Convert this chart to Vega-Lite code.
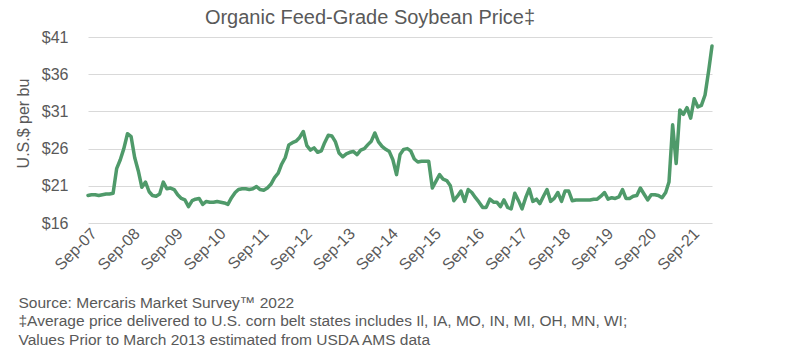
{
  "$schema": "https://vega.github.io/schema/vega-lite/v6.json",
  "autosize": {"type": "none"},
  "width": 624,
  "height": 186,
  "padding": {"left": 88, "top": 37, "right": 88, "bottom": 138},
  "background": "white",
  "config": {
    "view": {"stroke": null},
    "font": "Liberation Sans"
  },
  "title": {
    "text": "Organic Feed-Grade Soybean Price‡",
    "fontSize": 20,
    "fontWeight": "normal",
    "color": "#595959",
    "font": "Liberation Sans",
    "anchor": "middle",
    "dx": -30,
    "dy": 3,
    "offset": 4
  },
  "data": {
    "values": [
      {"d": "2007-09", "p": 19.7}, {"d": "2007-10", "p": 19.8}, {"d": "2007-11", "p": 19.8}, {"d": "2007-12", "p": 19.7},
      {"d": "2008-01", "p": 19.8}, {"d": "2008-02", "p": 19.9}, {"d": "2008-03", "p": 19.9}, {"d": "2008-04", "p": 20.0},
      {"d": "2008-05", "p": 23.3}, {"d": "2008-06", "p": 24.5}, {"d": "2008-07", "p": 26.0}, {"d": "2008-08", "p": 28.0},
      {"d": "2008-09", "p": 27.6}, {"d": "2008-10", "p": 24.8}, {"d": "2008-11", "p": 23.0}, {"d": "2008-12", "p": 20.8},
      {"d": "2009-01", "p": 21.5}, {"d": "2009-02", "p": 20.2}, {"d": "2009-03", "p": 19.7}, {"d": "2009-04", "p": 19.6},
      {"d": "2009-05", "p": 19.9}, {"d": "2009-06", "p": 21.5}, {"d": "2009-07", "p": 20.6}, {"d": "2009-08", "p": 20.7},
      {"d": "2009-09", "p": 20.5}, {"d": "2009-10", "p": 19.8}, {"d": "2009-11", "p": 19.3}, {"d": "2009-12", "p": 19.1},
      {"d": "2010-01", "p": 18.2}, {"d": "2010-02", "p": 19.0}, {"d": "2010-03", "p": 19.2}, {"d": "2010-04", "p": 19.3},
      {"d": "2010-05", "p": 18.5}, {"d": "2010-06", "p": 18.9}, {"d": "2010-07", "p": 18.8}, {"d": "2010-08", "p": 18.8},
      {"d": "2010-09", "p": 18.9}, {"d": "2010-10", "p": 18.8}, {"d": "2010-11", "p": 18.7}, {"d": "2010-12", "p": 18.5},
      {"d": "2011-01", "p": 19.4}, {"d": "2011-02", "p": 20.1}, {"d": "2011-03", "p": 20.5}, {"d": "2011-04", "p": 20.6},
      {"d": "2011-05", "p": 20.6}, {"d": "2011-06", "p": 20.5}, {"d": "2011-07", "p": 20.6}, {"d": "2011-08", "p": 20.9},
      {"d": "2011-09", "p": 20.5}, {"d": "2011-10", "p": 20.4}, {"d": "2011-11", "p": 20.7}, {"d": "2011-12", "p": 21.2},
      {"d": "2012-01", "p": 22.1}, {"d": "2012-02", "p": 22.7}, {"d": "2012-03", "p": 23.9}, {"d": "2012-04", "p": 24.8},
      {"d": "2012-05", "p": 26.5}, {"d": "2012-06", "p": 26.8}, {"d": "2012-07", "p": 27.0}, {"d": "2012-08", "p": 27.5},
      {"d": "2012-09", "p": 28.3}, {"d": "2012-10", "p": 26.4}, {"d": "2012-11", "p": 25.8}, {"d": "2012-12", "p": 26.1},
      {"d": "2013-01", "p": 25.5}, {"d": "2013-02", "p": 25.7}, {"d": "2013-03", "p": 26.8}, {"d": "2013-04", "p": 27.8},
      {"d": "2013-05", "p": 27.7}, {"d": "2013-06", "p": 26.9}, {"d": "2013-07", "p": 25.4}, {"d": "2013-08", "p": 24.9},
      {"d": "2013-09", "p": 25.3}, {"d": "2013-10", "p": 25.5}, {"d": "2013-11", "p": 25.6}, {"d": "2013-12", "p": 25.2},
      {"d": "2014-01", "p": 25.8}, {"d": "2014-02", "p": 26.0}, {"d": "2014-03", "p": 26.5}, {"d": "2014-04", "p": 27.0},
      {"d": "2014-05", "p": 28.1}, {"d": "2014-06", "p": 26.9}, {"d": "2014-07", "p": 26.3}, {"d": "2014-08", "p": 25.9},
      {"d": "2014-09", "p": 25.6}, {"d": "2014-10", "p": 24.5}, {"d": "2014-11", "p": 22.5}, {"d": "2014-12", "p": 25.2},
      {"d": "2015-01", "p": 25.9}, {"d": "2015-02", "p": 26.0}, {"d": "2015-03", "p": 25.7}, {"d": "2015-04", "p": 24.6},
      {"d": "2015-05", "p": 24.2}, {"d": "2015-06", "p": 24.3}, {"d": "2015-07", "p": 24.3}, {"d": "2015-08", "p": 24.3},
      {"d": "2015-09", "p": 20.7}, {"d": "2015-10", "p": 21.6}, {"d": "2015-11", "p": 22.5}, {"d": "2015-12", "p": 21.9},
      {"d": "2016-01", "p": 21.7}, {"d": "2016-02", "p": 21.0}, {"d": "2016-03", "p": 19.0}, {"d": "2016-04", "p": 19.6},
      {"d": "2016-05", "p": 20.3}, {"d": "2016-06", "p": 18.9}, {"d": "2016-07", "p": 20.5}, {"d": "2016-08", "p": 20.1},
      {"d": "2016-09", "p": 19.4}, {"d": "2016-10", "p": 18.8}, {"d": "2016-11", "p": 18.1}, {"d": "2016-12", "p": 18.1},
      {"d": "2017-01", "p": 19.2}, {"d": "2017-02", "p": 18.8}, {"d": "2017-03", "p": 18.8}, {"d": "2017-04", "p": 18.2},
      {"d": "2017-05", "p": 19.1}, {"d": "2017-06", "p": 18.1}, {"d": "2017-07", "p": 17.9}, {"d": "2017-08", "p": 20.0},
      {"d": "2017-09", "p": 19.0}, {"d": "2017-10", "p": 17.9}, {"d": "2017-11", "p": 19.4}, {"d": "2017-12", "p": 20.6},
      {"d": "2018-01", "p": 18.9}, {"d": "2018-02", "p": 19.2}, {"d": "2018-03", "p": 18.6}, {"d": "2018-04", "p": 19.6},
      {"d": "2018-05", "p": 20.5}, {"d": "2018-06", "p": 18.9}, {"d": "2018-07", "p": 19.3}, {"d": "2018-08", "p": 20.1},
      {"d": "2018-09", "p": 18.9}, {"d": "2018-10", "p": 20.3}, {"d": "2018-11", "p": 20.3}, {"d": "2018-12", "p": 19.0},
      {"d": "2019-01", "p": 19.1}, {"d": "2019-02", "p": 19.1}, {"d": "2019-03", "p": 19.1}, {"d": "2019-04", "p": 19.1},
      {"d": "2019-05", "p": 19.1}, {"d": "2019-06", "p": 19.2}, {"d": "2019-07", "p": 19.2}, {"d": "2019-08", "p": 19.6},
      {"d": "2019-09", "p": 20.1}, {"d": "2019-10", "p": 19.2}, {"d": "2019-11", "p": 19.4}, {"d": "2019-12", "p": 19.3},
      {"d": "2020-01", "p": 19.5}, {"d": "2020-02", "p": 20.5}, {"d": "2020-03", "p": 19.3}, {"d": "2020-04", "p": 19.3},
      {"d": "2020-05", "p": 19.6}, {"d": "2020-06", "p": 19.7}, {"d": "2020-07", "p": 20.7}, {"d": "2020-08", "p": 19.9},
      {"d": "2020-09", "p": 19.1}, {"d": "2020-10", "p": 19.8}, {"d": "2020-11", "p": 19.8}, {"d": "2020-12", "p": 19.7},
      {"d": "2021-01", "p": 19.4}, {"d": "2021-02", "p": 20.1}, {"d": "2021-03", "p": 21.5}, {"d": "2021-04", "p": 29.2},
      {"d": "2021-05", "p": 24.0}, {"d": "2021-06", "p": 31.2}, {"d": "2021-07", "p": 30.6}, {"d": "2021-08", "p": 31.5},
      {"d": "2021-09", "p": 30.1}, {"d": "2021-10", "p": 32.7}, {"d": "2021-11", "p": 31.6}, {"d": "2021-12", "p": 31.8},
      {"d": "2022-01", "p": 33.2}, {"d": "2022-02", "p": 36.5}, {"d": "2022-03", "p": 39.8}
    ]
  },
  "mark": {"type": "line", "color": "#4f9a6a", "strokeWidth": 3.5, "strokeJoin": "round", "strokeCap": "round"},
  "encoding": {
    "x": {
      "field": "d",
      "type": "temporal",
      "scale": {"type": "utc", "domain": [{"year": 2007, "month": 9, "date": 1, "utc": true}, {"year": 2022, "month": 3, "date": 1, "utc": true}], "nice": false},
      "axis": {
        "values": [
          {"year": 2007, "month": 9, "date": 1, "utc": true}, {"year": 2008, "month": 9, "date": 1, "utc": true},
          {"year": 2009, "month": 9, "date": 1, "utc": true}, {"year": 2010, "month": 9, "date": 1, "utc": true},
          {"year": 2011, "month": 9, "date": 1, "utc": true}, {"year": 2012, "month": 9, "date": 1, "utc": true},
          {"year": 2013, "month": 9, "date": 1, "utc": true}, {"year": 2014, "month": 9, "date": 1, "utc": true},
          {"year": 2015, "month": 9, "date": 1, "utc": true}, {"year": 2016, "month": 9, "date": 1, "utc": true},
          {"year": 2017, "month": 9, "date": 1, "utc": true}, {"year": 2018, "month": 9, "date": 1, "utc": true},
          {"year": 2019, "month": 9, "date": 1, "utc": true}, {"year": 2020, "month": 9, "date": 1, "utc": true},
          {"year": 2021, "month": 9, "date": 1, "utc": true}
        ],
        "labelExpr": "utcFormat(datum.value, '%b-%y')",
        "labelAngle": -45,
        "labelFontSize": 16,
        "labelColor": "#595959",
        "labelFont": "Liberation Sans",
        "labelPadding": 2,
        "labelOverlap": false,
        "labelFlush": false,
        "ticks": false,
        "domain": false,
        "grid": false,
        "title": [
          "Source: Mercaris Market Survey™ 2022",
          "‡Average price delivered to U.S. corn belt states includes Il, IA, MO, IN, MI, OH, MN, WI;",
          "Values Prior to March 2013 estimated from USDA AMS data"
        ],
        "titleFont": "Liberation Sans",
        "titleFontSize": 15.5,
        "titleFontWeight": "normal",
        "titleColor": "#595959",
        "titleAlign": "left",
        "titleAnchor": "start",
        "titleBaseline": "top",
        "titleLineHeight": 18.5,
        "titleX": -70,
        "titleY": 72
      }
    },
    "y": {
      "field": "p",
      "type": "quantitative",
      "scale": {"domain": [16, 41], "nice": false, "zero": false},
      "axis": {
        "values": [16, 21, 26, 31, 36, 41],
        "labelExpr": "'$' + datum.value",
        "labelFontSize": 16,
        "labelColor": "#595959",
        "labelFont": "Liberation Sans",
        "labelPadding": 20,
        "ticks": false,
        "domain": false,
        "grid": true,
        "gridColor": "#d9d9d9",
        "gridWidth": 1.2,
        "title": "U.S.$ per bu",
        "titleFont": "Liberation Sans",
        "titleFontSize": 16,
        "titleFontWeight": "normal",
        "titleColor": "#595959",
        "titlePadding": 10,
        "titleY": 86
      }
    }
  }
}
